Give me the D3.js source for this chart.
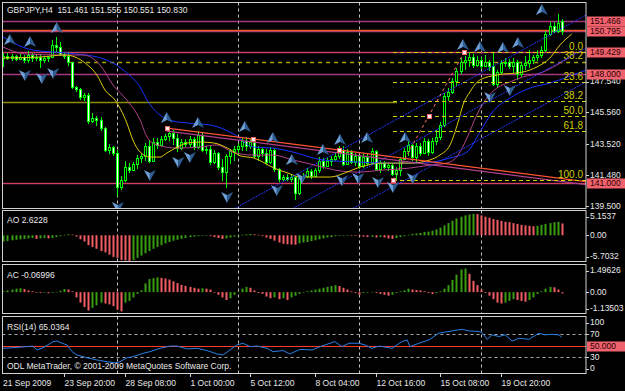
<!DOCTYPE html>
<html>
<head>
<meta charset="utf-8">
<script src="https://cdn.jsdelivr.net/npm/d3@7"></script>
<style>
	body { margin: 0; background: #000; }
	svg { display: block; font-family: "Liberation Sans", Arial, sans-serif; font-size: 8.5px; }
</style>
</head>
<body>
<svg id="chart" width="625" height="391"></svg>
<script>
// bar index of the first visible candle
const firstBar = 2
// [open, high, low, close] per H4 bar
const candles = [
	[149.06,149.38,148.48,149.19],[149.19,149.38,148.93,149.06],[149.06,149.32,148.86,149.19],[149.19,149.25,148.86,148.99],
	[148.99,149.32,148.93,149.12],[149.12,149.25,148.73,148.93],[148.93,149.51,148.73,149.25],[149.25,149.38,148.80,149.06],
	[149.06,149.32,148.86,149.12],[149.12,149.32,148.41,148.93],[148.93,149.19,148.73,149.06],[149.06,149.19,148.80,149.12],
	[149.12,150.22,149.06,149.90],[149.90,150.41,149.38,149.77],[149.77,150.09,149.19,149.32],[149.32,149.44,148.99,149.19],
	[149.19,149.44,148.54,148.80],[148.80,148.80,147.05,147.18],[147.18,147.25,146.86,147.05],[147.05,147.12,146.34,146.54],
	[146.54,146.80,146.28,146.67],[146.67,146.80,144.79,144.99],[144.99,145.50,144.86,145.18],[145.18,145.31,144.66,145.05],
	[145.05,145.24,144.34,144.53],[144.53,144.60,142.98,143.11],[143.11,143.50,142.85,143.31],[143.31,143.37,142.73,142.92],
	[142.92,143.11,140.14,140.72],[140.72,141.43,140.53,141.17],[141.17,142.40,141.04,142.01],[142.01,142.27,141.63,141.82],
	[141.82,142.34,141.76,142.21],[142.21,142.79,141.89,142.60],[142.60,142.92,142.27,142.73],[142.73,143.57,142.40,143.37],
	[143.37,143.76,142.27,142.40],[142.40,143.89,142.34,143.63],[143.63,143.89,143.18,143.44],[143.44,144.02,143.37,143.82],
	[143.82,144.15,143.69,144.02],[144.02,144.47,143.69,144.21],[144.21,144.41,143.44,143.89],[143.89,144.15,142.98,143.24],
	[143.24,143.82,143.11,143.63],[143.63,143.82,143.31,143.50],[143.50,144.02,143.31,143.82],[143.82,143.95,143.11,143.31],
	[143.31,144.34,143.18,144.08],[144.08,144.21,142.98,143.11],[143.11,143.37,142.85,143.18],[143.18,143.37,142.14,142.34],
	[142.34,143.11,142.21,142.92],[142.92,142.98,141.82,142.01],[142.01,142.53,141.11,141.69],[141.69,142.85,140.66,142.73],
	[142.73,143.18,142.21,143.05],[143.05,143.37,142.40,143.18],[143.18,143.57,142.73,143.37],[143.37,143.89,143.05,143.69],
	[143.69,143.95,143.05,143.37],[143.37,143.82,143.18,143.63],[143.63,143.69,142.60,142.73],[142.73,143.37,142.40,143.18],
	[143.18,143.24,142.66,142.92],[142.92,143.18,142.14,142.34],[142.34,143.31,142.21,143.11],[143.11,143.24,141.69,141.89],
	[141.89,141.95,141.04,141.24],[141.24,141.50,141.11,141.37],[141.37,141.56,141.11,141.24],[141.24,141.50,141.04,141.37],
	[141.37,141.43,139.88,140.34],[140.34,141.50,140.20,141.30],[141.30,141.63,141.11,141.43],[141.43,141.95,141.30,141.76],
	[141.76,141.89,141.24,141.43],[141.43,141.95,141.37,141.82],[141.82,142.66,141.63,142.40],[142.40,142.60,141.89,142.08],
	[142.08,142.60,142.01,142.40],[142.40,142.73,142.08,142.53],[142.53,142.92,142.40,142.73],[142.73,143.37,142.53,143.11],
	[143.11,143.37,142.08,142.21],[142.21,143.18,142.14,142.98],[142.98,143.11,142.21,142.34],[142.34,142.92,142.08,142.73],
	[142.73,142.79,141.89,142.08],[142.08,142.92,141.95,142.66],[142.66,142.92,142.08,142.27],[142.27,143.24,142.21,143.05],
	[143.05,143.11,141.76,141.89],[141.89,142.47,141.63,142.27],[142.27,142.40,141.89,142.01],[142.01,142.21,141.76,142.14],
	[142.14,142.27,141.43,141.56],[141.56,142.01,141.11,141.82],[141.82,142.66,141.43,142.53],[142.53,143.24,142.47,143.05],
	[143.05,143.76,142.73,143.44],[143.44,143.50,142.40,142.66],[142.66,143.57,142.21,143.37],[143.37,143.57,142.73,142.92],
	[142.92,143.89,142.85,143.69],[143.69,143.82,142.73,142.98],[142.98,143.89,142.85,143.69],[143.69,144.41,143.44,143.95],
	[143.95,144.92,143.76,144.73],[144.73,146.80,144.60,146.60],[146.60,147.12,146.28,146.86],[146.86,147.76,146.73,147.57],
	[147.57,148.41,147.25,148.22],[148.22,149.06,148.02,148.80],[148.80,149.19,148.28,148.93],[148.93,149.43,148.48,149.12],
	[149.12,149.32,148.41,148.60],[148.60,149.19,148.48,148.93],[148.93,149.12,148.35,148.54],[148.54,149.25,148.48,148.80],
	[148.80,148.93,148.22,148.54],[148.54,149.44,147.25,147.38],[147.38,148.28,147.12,148.15],[148.15,148.93,148.02,148.73],
	[148.73,149.06,148.48,148.80],[148.80,148.99,148.35,148.54],[148.54,149.06,148.09,148.80],[148.80,148.93,147.64,148.02],
	[148.02,148.80,147.83,148.60],[148.60,149.19,148.28,148.73],[148.73,149.57,148.41,148.93],[148.93,149.25,148.67,149.12],
	[149.12,149.57,148.86,149.25],[149.25,149.83,149.06,149.57],[149.57,150.80,149.44,150.61],[150.61,151.38,150.48,151.12],
	[151.12,151.38,150.67,150.80],[150.80,151.90,150.67,151.32],[151.461,151.555,150.551,150.830]
]
const aoValues = [
	-1.4,-1.3,-1.1,-1.0,-0.9,-0.8,-0.7,-0.6,-0.8,-0.7,-0.6,-0.7,-0.6,-0.4,-0.2,0.1,0.2,0.15,-0.3,-0.9,
	-1.4,-2.2,-2.6,-3.0,-3.5,-3.8,-4.3,-4.8,-5.0,-5.5,-5.6,-5.7,-5.5,-5.0,-4.5,-4.0,-3.5,-3.0,-2.6,-2.2,
	-1.8,-1.5,-1.2,-1.0,-0.8,-0.6,-0.4,-0.3,-0.2,-0.1,-0.05,-0.2,-0.4,-0.6,-0.8,-0.7,-0.5,-0.3,-0.1,0.1,
	0.2,0.3,0.2,0.1,-0.2,-0.5,-0.8,-1.2,-1.6,-1.9,-2.0,-2.05,-2.1,-1.8,-1.6,-1.5,-1.3,-1.1,-0.9,-0.7,
	-0.5,-0.4,-0.2,-0.1,0.05,0.08,0.05,-0.1,-0.2,-0.3,-0.4,-0.35,-0.5,-0.4,-0.5,-0.7,-0.8,-0.6,-0.4,-0.2,
	0.1,0.3,0.4,0.5,0.7,0.8,1.0,1.3,1.7,2.2,2.7,3.2,3.7,4.1,4.4,4.6,4.75,4.7,4.4,4.1,
	3.9,3.6,3.4,3.2,3.0,2.9,2.7,2.5,2.3,2.2,2.1,2.0,2.1,2.3,2.5,2.7,2.9,3.0,2.6228
]
const acValues = [
	0.05,0.1,0.15,0.2,0.22,0.18,0.1,0.05,-0.03,-0.05,-0.03,-0.06,-0.04,0.02,0.08,0.18,0.15,0.05,-0.3,-0.6,
	-0.85,-1.05,-0.9,-0.75,-0.6,-0.65,-0.7,-0.8,-1.0,-1.1,-0.6,-0.5,-0.3,-0.1,0.1,0.5,0.75,0.8,0.85,0.82,
	0.78,0.72,0.62,0.52,0.42,0.36,0.3,0.25,0.2,0.22,0.2,0.15,0.0,-0.15,-0.3,-0.45,-0.35,-0.15,0.05,0.2,
	0.3,0.25,0.1,-0.05,-0.1,-0.25,-0.35,-0.3,-0.4,-0.35,-0.45,-0.3,-0.2,-0.1,0.0,0.05,0.1,0.15,0.2,0.25,
	0.3,0.35,0.4,0.35,0.25,0.15,0.05,-0.05,-0.15,-0.05,0.0,0.02,-0.05,-0.1,-0.15,-0.2,-0.15,-0.05,0.05,0.1,
	0.2,0.15,0.12,0.1,0.05,-0.05,-0.1,-0.05,0.05,0.2,0.4,0.7,1.0,1.3,1.35,1.05,0.65,0.4,0.15,-0.05,
	-0.2,-0.4,-0.6,-0.65,-0.6,-0.5,-0.4,-0.45,-0.5,-0.55,-0.45,-0.3,-0.1,0.05,0.2,0.3,0.28,0.15,-0.06996
]
// [bar, value]
const rsiPoints = [
	[1.9,45],[6.1,47],[9.3,49],[10.3,42],[11.8,46],[14.3,57],[15.3,58],[16.5,54],[17.7,51],[19.0,39],[20.2,33],
	[22.7,28],[25.2,24],[27.6,21],[29.6,19],[30.8,21],[32.5,28],[34.0,30],[36.5,36],[38.2,39],[40.7,45],[43.2,49],
	[44.9,49],[47.4,44],[49.9,45],[52.3,41],[54.8,35],[56.3,33],[58.0,42],[59.7,51],[61.2,54],[63.0,48],[64.7,49],
	[67.2,45],[68.6,39],[71.1,41],[72.8,35],[75.3,43],[78.3,42],[80.7,49],[83.9,57],[85.7,48],[87.4,54],[89.9,54],
	[91.4,51],[93.1,45],[94.9,49],[98.1,45],[100.5,57],[101.8,60],[102.5,48],[104.7,54],[107.2,60],[109.6,72],
	[112.9,76],[115.4,79],[117.1,76],[119.6,75],[120.3,73],[121.6,61],[122.8,69],[124.5,66],[126.0,69],[127.8,58],
	[129.5,63],[131.9,61],[134.4,72],[135.9,69],[137.6,70],[139.3,69],[140,65.0364]
]
// shifted moving averages, [bar, price]
const lipsLine = [
	[1.9,149.06],[11.0,149.12],[17.2,149.25],[19.7,149.12],[22.2,148.73],[25.1,147.96],[27.1,146.99],[29.6,146.34],
	[32.5,144.86],[34.0,143.76],[35.8,142.98],[38.2,142.66],[40.7,142.66],[42.4,142.92],[45.0,143.31],[47.5,143.57],
	[50.7,143.63],[54.0,143.57],[57.4,143.24],[60.7,142.73],[63.9,142.60],[68.9,141.95],[72.3,141.63],[75.4,141.37],
	[82.8,141.37],[86.4,141.63],[90.1,142.01],[95.9,142.27],[102.6,142.27],[107.4,142.47],[109.9,142.79],[112.4,143.44],
	[114.4,144.92],[115.6,146.02],[117.3,146.86],[119.8,147.64],[124.0,147.96],[130.4,148.15],[133.9,148.48],
	[137.1,149.06],[139.6,149.90],[142.5,150.61]
]
const teethLine = [
	[1.9,149.77],[7.3,149.32],[16.0,149.25],[21.7,149.25],[25.9,148.60],[29.1,147.31],[32.5,146.34],[35.8,145.05],
	[37.5,143.95],[40.0,143.44],[44.9,143.24],[50.6,143.31],[54.8,143.44],[58.7,142.98],[63.7,142.79],[68.6,142.79],
	[73.6,142.47],[79.0,142.14],[83.9,141.82],[89.4,141.69],[95.8,141.82],[102.5,141.95],[107.4,142.14],[111.6,142.27],
	[114.4,142.79],[116.6,143.89],[119.0,145.37],[121.5,146.47],[124.0,147.12],[127.2,147.51],[130.4,147.83],
	[135.4,148.15],[138.8,148.60],[142.1,149.12]
]
const jawLine = [
	[1.9,150.41],[9.3,149.57],[17.7,149.38],[25.2,149.12],[29.1,148.73],[32.5,148.09],[35.8,147.18],[37.5,146.34],
	[40.7,145.37],[43.9,144.99],[47.4,144.86],[53.1,144.73],[58.9,144.15],[63.7,143.31],[68.6,143.24],[73.6,142.98],
	[81.0,142.47],[89.4,142.34],[97.6,142.27],[105.7,142.27],[112.4,142.60],[116.6,142.98],[119.8,144.28],
	[122.9,145.57],[127.2,146.47],[132.2,147.12],[137.1,147.44],[142.8,147.96],[146.0,148.28]
]
// [bar1, price1, bar2, price2]
const channelLines = [[58.5,139.24,146,151.83],[72.8,139.24,146,149.70],[87.7,139.24,146,147.51]]
const trendLines = [[42.4,144.53,85.0,143.11],[42.4,144.34,85.0,142.92]]
const levelPrices = [151.466, 150.795, 149.429, 148.000, 141.000]
const orangeLevels = [150.87]
const priceTicks = [147.54, 145.56, 143.52, 141.48, 139.50]
const fibAnchors = [98.3, 141.17, 115.9, 149.43]
const fibLevels = [0, 23.6, 38.2, 50, 61.8, 100]
const fib2Level = [18.5, 148.80, 38.2]
const oliveLevel = [1.9, 99.3, 146.21]
const fractalsUp = [
	[3.6,150.22],[8.6,150.09],[15.2,150.99],[42.4,145.18],[50.1,144.86],[61.7,144.60],[68.6,143.89],[73.3,142.47],
	[81.0,143.11],[85.2,143.76],[91.9,143.89],[101.3,143.89],[115.6,149.90],[119.8,149.77],[125.5,149.70],
	[129.2,150.03],[135.1,152.16]
]
const fractalsDown = [
	[7.3,147.96],[11.5,147.76],[14.3,148.09],[30.3,139.43],[38.2,141.50],[45.2,142.34],[48.1,142.66],[57.3,140.08],
	[69.6,140.53],[75.8,141.30],[85.7,141.17],[89.7,141.30],[94.6,141.05],[98.3,140.72],[103.2,141.30],
	[122.3,146.54],[127.2,146.99]
]
const weekStarts = [30, 60, 90, 120]
const timeTicks = [
	[1,'21 Sep 2009'],[17,'23 Sep 20:00'],[32,'28 Sep 08:00'],[48,'1 Oct 00:00'],[63,'5 Oct 12:00'],
	[79,'8 Oct 04:00'],[94,'12 Oct 16:00'],[110,'15 Oct 08:00'],[125,'19 Oct 20:00']
]
const quote = ['151.461', '151.555', '150.551', '150.830']
const aoTicks = [5.1537, 0, -5.7032]
const acTicks = [1.49626, 0, -1.13503]
const rsiTicks = [100, 70, 30, 0]
const rsiLevels = [70, 30]
const rsiMid = 50

const W = 625, H = 391
const left = 2.5, right = 586
const panels = {
	main: { top: 2.5, bottom: 208.5 },
	ao: { top: 210.5, bottom: 261.5 },
	ac: { top: 264.5, bottom: 313.5 },
	rsi: { top: 316.5, bottom: 373.5 },
}
const frameColor = '#d2d2d2', textColor = '#e8e8e8', boxColor = '#f0626e'
const upColor = '#3a9c10', downColor = '#f25c62'

const svg = d3.select('#chart')
svg.append('rect').attr('width', W).attr('height', H).attr('fill', '#000')

const x = d3.scaleLinear().domain([0, 150]).range([-4.65, -4.65 + 4.045 * 150])
const yPrice = d3.scaleLinear().domain([139.37, 152.61]).range([208, 3])
const yAO = d3.scaleLinear().domain([-5.7032, 5.1537]).range([261, 212])
const yAC = d3.scaleLinear().domain([-1.13503, 1.49626]).range([312, 266])
const yRSI = d3.scaleLinear().domain([0, 100]).range([373.5, 317.5])

const defs = svg.append('defs')
Object.entries(panels).forEach(([k, p]) => {
	defs.append('clipPath').attr('id', 'clip-' + k)
		.append('rect').attr('x', left).attr('y', p.top).attr('width', right - left).attr('height', p.bottom - p.top)
})
const layer = k => svg.append('g').attr('clip-path', `url(#clip-${k})`)

// week separators
Object.entries(panels).forEach(([k, p]) => {
	layer(k).selectAll('line').data(weekStarts).join('line')
		.attr('x1', d => Math.round(x(d)) + 0.5).attr('x2', d => Math.round(x(d)) + 0.5)
		.attr('y1', p.top).attr('y2', p.bottom)
		.attr('stroke', '#c4c4c4').attr('stroke-dasharray', '3,3')
})

// ---------- main panel ----------
const main = layer('main')
const hline = (g, price, x1, x2, color, w, dash) => g.append('line')
	.attr('x1', x1).attr('x2', x2)
	.attr('y1', Math.round(yPrice(price)) + 0.5).attr('y2', Math.round(yPrice(price)) + 0.5)
	.attr('stroke', color).attr('stroke-width', w).attr('stroke-dasharray', dash || null)

hline(main, oliveLevel[2], x(oliveLevel[0]), x(oliveLevel[1]), '#8e8e08', 1.5)
levelPrices.forEach(p => hline(main, p, left, right, '#a5377f', 1.5))
hline(main, levelPrices[2], left, right, '#ff4a3a', 1, '1,1')
hline(main, levelPrices[4], left, right, '#ff4a3a', 1, '1,1')
orangeLevels.forEach(p => hline(main, p, left, right, '#e85a2c', 1.5))

// long fib level
hline(main, fib2Level[1], x(fib2Level[0]), right, '#a8a800', 1.5, '4,4')
main.append('text').attr('x', right - 3).attr('y', yPrice(fib2Level[1]) - 2.5)
	.attr('text-anchor', 'end').attr('fill', '#d0d000').attr('font-size', '10px').text(fib2Level[2].toFixed(1))

// candles
const candleG = main.append('g')
candles.forEach((c, k) => {
	const cx = Math.round(x(firstBar + k))
	const [o, h, l, cl] = c
	const top = Math.round(yPrice(Math.max(o, cl))), bot = Math.round(yPrice(Math.min(o, cl)))
	candleG.append('line').attr('x1', cx + 0.5).attr('x2', cx + 0.5)
		.attr('y1', yPrice(h)).attr('y2', yPrice(l)).attr('stroke', '#00ff00')
	candleG.append('rect').attr('x', cx - 0.5).attr('y', top + 0.5)
		.attr('width', 2).attr('height', Math.max(bot - top, 1))
		.attr('fill', cl >= o ? '#000' : '#fff').attr('stroke', '#00ff00')
})

// alligator lines
const maLine = d3.line().x(d => x(d[0])).y(d => yPrice(d[1])).curve(d3.curveMonotoneX)
main.append('path').attr('d', maLine(jawLine)).attr('fill', 'none').attr('stroke', '#1834ff')
main.append('path').attr('d', maLine(teethLine)).attr('fill', 'none').attr('stroke', '#b2408c')
main.append('path').attr('d', maLine(lipsLine)).attr('fill', 'none').attr('stroke', '#dccc10')

// channel and trend lines (rays to the right)
const ray = (d, end) => {
	const slope = (d[3] - d[1]) / (d[2] - d[0])
	return [[x(d[0]), yPrice(d[1])], [x(end), yPrice(d[1] + slope * (end - d[0]))]]
}
channelLines.forEach(d => {
	const [a, b] = ray(d, 150)
	main.append('line').attr('x1', a[0]).attr('y1', a[1]).attr('x2', b[0]).attr('y2', b[1])
		.attr('stroke', '#2638ff').attr('stroke-dasharray', '2,1')
})
trendLines.forEach((d, k) => {
	const [a, b] = ray(d, 150)
	main.append('line').attr('x1', a[0]).attr('y1', a[1]).attr('x2', b[0]).attr('y2', b[1])
		.attr('stroke', k === 0 ? '#ff5530' : '#b0408a').attr('stroke-width', 1.2)
})

// fibonacci retracement
const [fb1, fLow, fb2, fHigh] = fibAnchors
fibLevels.forEach(lv => {
	const p = fHigh - (fHigh - fLow) * lv / 100
	hline(main, p, x(fb1), right, '#d2d200', 1, '4,3')
	main.append('text').attr('x', right - 3).attr('y', yPrice(p) - 2.5)
		.attr('text-anchor', 'end').attr('fill', '#d0d000').attr('font-size', '10px').text(lv.toFixed(1))
})
main.append('line')
	.attr('x1', x(fb1)).attr('y1', yPrice(fLow)).attr('x2', x(fb2)).attr('y2', yPrice(fHigh))
	.attr('stroke', '#ff7070').attr('stroke-dasharray', '3,3')

// anchor squares
const anchors = [
	[trendLines[0][0], trendLines[0][1]], [trendLines[0][2], trendLines[0][3]],
	[(trendLines[0][0] + trendLines[0][2]) / 2, (trendLines[0][1] + trendLines[0][3]) / 2],
	[fb1, fLow], [fb2, fHigh], [(fb1 + fb2) / 2, (fLow + fHigh) / 2],
]
main.selectAll('rect.anchor').data(anchors).join('rect').attr('class', 'anchor')
	.attr('x', d => Math.round(x(d[0])) - 1.5).attr('y', d => Math.round(yPrice(d[1])) - 1.5)
	.attr('width', 4).attr('height', 4).attr('fill', '#fff0f0').attr('stroke', '#f06a6a')

// fractals
const arrow = (g, d, up) => {
	const a = g.append('g').attr('transform', `translate(${x(d[0])},${yPrice(d[1])}) scale(1,${up ? 1 : -1})`)
	a.append('path').attr('d', 'M0,-6L-6,5L0,2Z').attr('fill', '#6d9fd6')
	a.append('path').attr('d', 'M0,-6L6,5L0,2Z').attr('fill', '#2e5d92')
}
fractalsUp.forEach(d => arrow(main, d, true))
fractalsDown.forEach(d => arrow(main, d, false))

// ---------- AO / AC ----------
const histogram = (k, values, y) => {
	layer(k).selectAll('rect').data(values).join('rect')
		.attr('x', (d, i) => Math.round(x(firstBar + i)) - 0.5)
		.attr('width', 2)
		.attr('y', d => Math.min(y(d), y(0)))
		.attr('height', d => Math.max(Math.abs(y(d) - y(0)), 0.6))
		.attr('fill', (d, i) => i === 0 || d >= values[i - 1] ? upColor : downColor)
}
histogram('ao', aoValues, yAO)
histogram('ac', acValues, yAC)

// ---------- RSI ----------
const rsi = layer('rsi')
rsiLevels.forEach(v => rsi.append('line').attr('x1', left).attr('x2', right)
	.attr('y1', Math.round(yRSI(v)) + 0.5).attr('y2', Math.round(yRSI(v)) + 0.5)
	.attr('stroke', '#a8a8a8').attr('stroke-dasharray', '3,3'))
rsi.append('line').attr('x1', left).attr('x2', right)
	.attr('y1', Math.round(yRSI(rsiMid)) + 0.5).attr('y2', Math.round(yRSI(rsiMid)) + 0.5).attr('stroke', '#ff3a2a')
rsi.append('path')
	.attr('d', d3.line().x(d => x(d[0])).y(d => yRSI(d[1]))(rsiPoints))
	.attr('fill', 'none').attr('stroke', '#2a7fe6')

// ---------- frames ----------
Object.values(panels).forEach(p => {
	svg.append('rect').attr('x', left).attr('y', p.top).attr('width', right - left).attr('height', p.bottom - p.top)
		.attr('fill', 'none').attr('stroke', frameColor)
})

// ---------- right axis ----------
const axisText = (y, label) => {
	svg.append('line').attr('x1', right).attr('x2', right + 3).attr('y1', Math.round(y) + 0.5).attr('y2', Math.round(y) + 0.5)
		.attr('stroke', frameColor)
	svg.append('text').attr('x', right + 4).attr('y', y).attr('dy', '0.35em').attr('fill', textColor).text(label)
}
const boxText = (y, label) => {
	svg.append('rect').attr('x', right + 1).attr('y', y - 5).attr('width', W - right - 1).attr('height', 10).attr('fill', boxColor)
	svg.append('text').attr('x', right + 4).attr('y', y).attr('dy', '0.35em').attr('fill', '#2a0000').text(label)
}
const clampY = (p, y) => Math.min(Math.max(y, p.top + 6), p.bottom - 5)
priceTicks.forEach(p => axisText(yPrice(p), p.toFixed(3)))
levelPrices.forEach(p => boxText(Math.round(yPrice(p)) + 0.5, p.toFixed(3)))
aoTicks.forEach(v => axisText(clampY(panels.ao, yAO(v)), v === 0 ? '0.00' : String(v)))
acTicks.forEach(v => axisText(clampY(panels.ac, yAC(v)), v === 0 ? '0.00' : String(v)))
rsiTicks.forEach(v => axisText(clampY(panels.rsi, yRSI(v)), String(v)))
boxText(Math.round(yRSI(rsiMid)) + 0.5, rsiMid.toFixed(3))

// ---------- time axis ----------
timeTicks.forEach(([i, label]) => {
	const tx = Math.round(x(i)) + 0.5
	svg.append('line').attr('x1', tx).attr('x2', tx).attr('y1', panels.rsi.bottom).attr('y2', panels.rsi.bottom + 3.5)
		.attr('stroke', frameColor)
	svg.append('text').attr('x', Math.max(tx, 3)).attr('y', 386).attr('fill', textColor).text(label)
})

// ---------- captions ----------
const caption = (tx, ty, s) => svg.append('text').attr('x', tx).attr('y', ty).attr('fill', textColor)
	.style('white-space', 'pre').text(s)
caption(7, 13, 'GBPJPY,H4  ' + quote.join(' '))
caption(7, 223, 'AO ' + aoValues[aoValues.length - 1])
caption(7, 278, 'AC ' + acValues[acValues.length - 1])
caption(7, 330, 'RSI(14) ' + rsiPoints[rsiPoints.length - 1][1])
caption(7, 369, 'ODL MetaTrader, \u00a9 2001-2009 MetaQuotes Software Corp.')
</script>
</body>
</html>
